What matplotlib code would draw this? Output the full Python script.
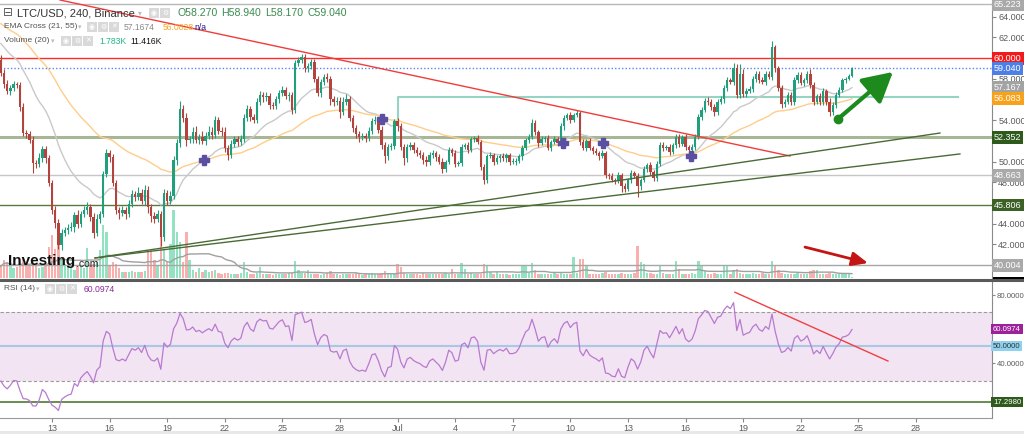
import numpy as np
import pandas as pd
import matplotlib
matplotlib.use("Agg")
import matplotlib.pyplot as plt
import matplotlib.dates as mdates
from matplotlib.transforms import blended_transform_factory
from matplotlib.patches import Rectangle
from matplotlib.lines import Line2D

plt.rcParams['font.family'] = ['Liberation Sans', 'DejaVu Sans']

# ---- 4h candles, LTC/USD (Binance) ----
start_time = '2022-06-10 08:00'
first_open = 59.8

closes_a = [58.6, 57.5, 56.8, 57.1, 57.5, 57.4, 55.3, 52.8, 52.7, 52.1,
            49.9, 49.8, 50.3, 51.2, 50.3, 47.9, 45.3, 44.1, 41.9, 43.1,
            43.4, 43.6, 43.7, 44.8, 44.0, 44.9, 45.3, 45.6, 44.6, 43.1,
            44.5, 44.9, 48.8, 50.8, 50.4, 47.9, 45.3, 45.0, 45.3, 44.9,
            45.9, 46.9, 46.6, 47.0, 46.2, 47.3, 45.6, 44.7, 44.5, 44.9,
            42.7, 47.0, 46.2, 46.7, 50.2, 51.8, 55.1, 54.2, 52.1, 52.2,
            52.9, 52.1, 52.4, 52.0, 52.5, 52.9, 52.6, 54.0]
closes_b = [53.0, 52.9, 51.3, 50.6, 51.7, 52.2, 51.9, 52.2, 54.2, 55.1,
            54.3, 54.0, 55.8, 56.4, 56.2, 56.3, 55.5, 55.4, 56.0, 56.6,
            56.9, 56.3, 56.4, 55.0, 59.5, 59.8, 60.1, 59.0, 59.2, 59.6,
            58.0, 56.6, 57.7, 58.2, 58.0, 56.0, 55.8, 55.9, 54.8, 55.8,
            56.0, 54.2, 53.2, 52.7, 52.4, 52.5, 52.3, 53.0, 53.9, 54.0,
            53.1, 51.6, 50.5, 51.4, 51.5, 53.9, 53.4, 51.4, 50.3, 51.4,
            51.6, 51.1, 50.8, 50.6, 50.2, 50.0, 50.6, 50.8]
closes_c = [50.4, 50.0, 49.3, 50.0, 51.1, 50.8, 49.8, 49.9, 51.4, 51.6,
            51.1, 52.2, 52.3, 51.9, 49.5, 48.2, 50.5, 50.6, 50.0, 50.3,
            50.5, 50.3, 50.6, 50.0, 50.0, 50.1, 50.5, 51.3, 52.1, 52.4,
            53.7, 52.9, 51.8, 52.2, 52.3, 51.3, 51.9, 52.2, 51.8, 53.4,
            54.2, 54.5, 54.0, 54.5, 54.7, 51.9, 51.3, 52.0, 51.3, 51.0,
            50.8, 50.5, 50.8, 48.7, 48.6, 48.2, 48.1, 48.7, 47.6, 47.4,
            48.2, 48.9, 48.6, 47.6, 48.2, 49.3, 49.7]
closes_d = [49.0, 48.4, 49.8, 51.6, 51.3, 51.4, 50.9, 51.6, 52.4, 51.7,
            52.4, 51.4, 51.1, 51.4, 52.4, 54.3, 55.0, 55.9, 55.8, 55.3,
            54.8, 55.8, 56.0, 57.1, 57.9, 57.7, 59.0, 56.4, 58.5, 56.5,
            56.8, 57.0, 58.0, 58.5, 57.9, 57.7, 58.5, 58.2, 61.1, 59.0,
            57.1, 55.6, 55.8, 56.4, 55.8, 57.9, 58.4, 57.6, 57.9, 58.5,
            57.4, 55.8, 56.3, 55.8, 56.8, 55.8, 54.8, 55.5, 56.4, 56.9,
            57.9, 58.0, 58.27, 59.04]

upper_wick = [0.5, 0.3, 0.4, 0.3, 0.3, 0.2, 0.3, 0.4, 0.3, 0.3,
              0.4, 0.3, 0.5, 0.3, 0.3, 0.3, 0.3, 0.4, 0.4, 0.4,
              0.3, 0.4, 0.5, 0.3, 0.5, 0.3, 0.4, 0.5, 0.3, 0.4,
              0.4, 0.3, 0.3, 0.4, 0.3, 0.3, 0.3, 0.3, 0.4, 0.3,
              0.4, 0.4, 0.3, 0.5, 0.4, 0.4, 0.3, 0.3, 0.4, 0.4,
              0.3, 0.4, 0.3, 0.5, 0.3, 0.4, 0.8, 0.4, 0.5, 0.3,
              0.4, 0.5, 0.3, 0.6, 0.4, 0.5, 0.4, 0.4,
              0.3, 0.3, 0.4, 0.3, 0.4, 0.3, 0.3, 0.4, 0.4, 0.4,
              0.3, 0.3, 0.3, 0.4, 0.3, 0.4, 0.3, 0.3, 0.3, 0.3,
              0.4, 0.3, 0.3, 0.3, 0.3, 0.3, 0.3, 0.3, 0.3, 0.3,
              0.3, 0.3, 0.3, 0.3, 0.4, 0.3, 0.3, 0.3, 0.3, 0.4,
              0.5, 0.3, 0.3, 0.3, 0.3, 0.3, 0.3, 0.3, 0.3, 0.4,
              0.3, 0.3, 0.3, 0.3, 0.3, 0.2, 0.3, 0.3, 0.3, 0.3,
              0.3, 0.3, 0.3, 0.3, 0.3, 0.3, 0.3, 0.3,
              0.2, 0.3, 0.3, 0.2, 0.3, 0.2, 0.3, 0.2, 0.3, 0.2,
              0.3, 0.2, 0.2, 0.3, 0.2, 0.3, 0.2, 0.3, 0.2, 0.3,
              0.2, 0.3, 0.2, 0.2, 0.3, 0.2, 0.2, 0.3, 0.2, 0.3,
              0.4, 0.3, 0.2, 0.3, 0.2, 0.3, 0.2, 0.3, 0.2, 0.3,
              0.3, 0.2, 0.3, 0.2, 0.3, 0.2, 0.3, 0.2, 0.3, 0.2,
              0.3, 0.2, 0.3, 0.2, 0.2, 0.3, 0.2, 0.3, 0.2, 0.3,
              0.2, 0.3, 0.2, 0.3, 0.2, 0.3, 0.2,
              0.3, 0.2, 0.3, 0.3, 0.3, 0.2, 0.3, 0.2, 0.3, 0.3,
              0.2, 0.3, 0.2, 0.3, 0.3, 0.3, 0.3, 0.2, 0.3, 0.2,
              0.3, 0.2, 0.3, 0.3, 0.3, 0.2, 0.5, 0.4, 0.9, 0.4,
              0.3, 0.3, 0.3, 0.3, 0.3, 0.3, 0.3, 0.3, 0.6, 0.2,
              0.2, 0.3, 0.2, 0.3, 0.3, 0.3, 0.3, 0.3, 0.2, 0.3,
              0.4, 0.3, 0.2, 0.3, 0.3, 0.2, 0.3, 0.3, 0.3, 0.3,
              0.2, 0.2, 0.2, 0.1]
lower_wick = [0.3, 0.4, 0.3, 0.4, 0.3, 0.3, 0.4, 0.3, 0.4, 0.3,
              1.0, 0.4, 0.3, 0.3, 0.4, 0.3, 0.4, 0.5, 0.3, 0.4,
              0.3, 0.4, 0.3, 0.5, 0.4, 0.3, 0.3, 0.4, 0.3, 0.5,
              0.3, 0.4, 0.3, 0.3, 0.4, 0.3, 0.4, 0.5, 0.3, 0.4,
              0.3, 0.3, 0.4, 0.3, 0.3, 0.4, 0.6, 0.5, 0.4, 0.3,
              0.9, 0.4, 0.4, 0.3, 0.3, 0.5, 0.4, 0.4, 0.6, 0.3,
              0.4, 0.3, 0.4, 0.3, 0.4, 0.3, 0.4, 0.3,
              0.3, 0.4, 0.4, 0.4, 0.3, 0.3, 0.4, 0.3, 0.3, 0.3,
              0.4, 0.3, 0.3, 0.3, 0.4, 0.3, 0.4, 0.3, 0.3, 0.3,
              0.3, 0.3, 0.4, 0.4, 0.3, 0.3, 0.3, 0.3, 0.3, 0.3,
              0.3, 0.3, 0.4, 0.3, 0.3, 0.5, 0.4, 0.3, 0.6, 0.3,
              0.3, 0.3, 0.3, 0.4, 0.5, 0.3, 0.4, 0.3, 0.3, 0.3,
              0.3, 0.4, 0.6, 0.3, 0.3, 0.3, 0.4, 0.3, 0.6, 0.3,
              0.3, 0.3, 0.3, 0.3, 0.4, 0.4, 0.3, 0.3,
              0.3, 0.2, 0.4, 0.3, 0.2, 0.3, 0.3, 0.2, 0.3, 0.2,
              0.3, 0.2, 0.3, 0.2, 0.3, 0.4, 0.3, 0.2, 0.3, 0.2,
              0.3, 0.2, 0.3, 0.3, 0.2, 0.3, 0.2, 0.3, 0.2, 0.3,
              0.2, 0.3, 0.4, 0.2, 0.3, 0.2, 0.3, 0.2, 0.3, 0.2,
              0.3, 0.2, 0.3, 0.2, 0.2, 0.3, 0.2, 0.3, 0.2, 0.3,
              0.2, 0.3, 0.2, 0.3, 0.3, 0.2, 0.3, 0.2, 0.5, 0.3,
              0.2, 0.3, 0.2, 1.0, 0.3, 0.2, 0.3,
              0.3, 0.3, 0.3, 0.2, 0.3, 0.2, 0.3, 0.2, 0.3, 0.3,
              0.2, 0.3, 0.3, 0.2, 0.3, 0.2, 0.3, 0.2, 0.3, 0.3,
              0.4, 0.3, 0.2, 0.3, 0.3, 0.2, 0.3, 0.3, 0.3, 0.3,
              0.3, 0.2, 0.3, 0.3, 0.3, 0.2, 0.3, 0.2, 0.3, 0.3,
              0.3, 0.4, 0.3, 0.2, 0.3, 0.3, 0.3, 0.2, 0.3, 0.3,
              0.3, 0.3, 0.2, 0.3, 0.3, 0.3, 0.4, 0.3, 0.3, 0.2,
              0.2, 0.3, 0.1, 0.1]

# volume in thousands (K)
volumes = [30, 45, 40, 30, 25, 28, 40, 50, 30, 35,
           45, 30, 25, 28, 30, 80, 110, 75, 120, 45,
           35, 30, 25, 20, 30, 28, 25, 77, 30, 35,
           40, 71, 135, 118, 33, 40, 35, 25, 15, 15,
           15, 18, 15, 15, 15, 18, 71, 71, 45, 33,
           122, 75, 40, 88, 174, 118, 92, 40, 118, 45,
           20, 15, 25, 15, 20, 15, 18, 20,
           12, 10, 14, 12, 9, 10, 11, 13, 41, 15,
           10, 9, 12, 28, 11, 9, 10, 8, 9, 11,
           10, 9, 12, 14, 43, 20, 14, 12, 20, 11,
           9, 10, 8, 10, 12, 18, 11, 9, 8, 10,
           9, 11, 10, 12, 9, 8, 10, 11, 13, 10,
           9, 12, 18, 11, 10, 14, 35, 28, 13, 10,
           9, 11, 10, 8, 12, 10, 9, 11,
           10, 9, 11, 12, 10, 24, 11, 9, 39, 24,
           10, 12, 11, 9, 10, 36, 30, 15, 10, 15,
           9, 10, 11, 8, 9, 10, 11, 30, 30, 12,
           39, 20, 10, 9, 11, 10, 9, 12, 10, 13,
           11, 10, 9, 54, 12, 48, 48, 33, 10, 11,
           9, 10, 12, 15, 10, 11, 9, 10, 13, 10,
           11, 9, 12, 82, 40, 36, 14,
           12, 10, 11, 33, 12, 10, 11, 9, 43, 24,
           10, 11, 9, 12, 10, 43, 33, 18, 11, 10,
           12, 9, 11, 30, 30, 10, 20, 24, 12, 11,
           10, 9, 12, 11, 10, 13, 9, 11, 43, 33,
           20, 12, 11, 10, 9, 10, 12, 11, 9, 10,
           18, 20, 20, 10, 9, 11, 12, 10, 9, 11,
           10, 12, 9, 1.8]

# indicator seeds (values already running at the left edge)
ema21_seed = 61.7
ema55_seed = 63.5
rsi_gain_seed = 0.25
rsi_loss_seed = 0.5

# horizontal levels and their right-axis tags
levels = [65.223, 60.0, 59.04, 52.352, 48.663, 45.806, 40.004]
price_ticks = [42, 44, 46, 48, 50, 52, 54, 56, 58, 60, 62, 64]
price_tick_labels = ['42.000', '44.000', '', '48.000', '50.000', '', '54.000', '', '58.000', '', '62.000', '64.000']
price_tags = ['65.223', '60.000', '59.040', '57.167', '56.083', '52.352', '48.663', '45.806', '40.004']
price_tag_vals = [65.223, 60.0, 59.04, 57.167, 56.083, 52.352, 48.663, 45.806, 40.004]
price_tag_colors = ['#a9a9a9', '#f21b1b', '#4d7fe6', '#a3a3a3', '#f7a21b', '#2e5a1c', '#a9a9a9', '#3b6124', '#a9a9a9']

# drawn trend lines: (days after 13 Jun, price)
red_trend = [(0.42, 65.61), (38.44, 50.54)]
green_trend_1 = [(2.24, 40.69), (46.25, 52.76)]
green_trend_2 = [(2.24, 40.69), (47.29, 50.74)]
teal_level = [(18.02, 54.0), (18.02, 56.2), (47.19, 56.2)]
cross_days = [7.92, 17.19, 26.6, 28.7, 33.3]
cross_prices = [50.14, 54.1, 51.8, 51.8, 50.55]
green_arrow = [(40.94, 54.12), (43.8, 58.66)]
red_arrow = [(39.22, 41.74), (42.5, 40.2)]
rsi_trend = [(35.57, 81.6), (43.54, 41.4)]

rsi_ticks = [20, 40, 60, 80]
rsi_tick_labels = ['', '40.0000', '', '80.0000']
x_tick_dates = ['2022-06-13', '2022-06-16', '2022-06-19', '2022-06-22', '2022-06-25', '2022-06-28',
                '2022-07-01', '2022-07-04', '2022-07-07', '2022-07-10', '2022-07-13', '2022-07-16',
                '2022-07-19', '2022-07-22', '2022-07-25', '2022-07-28']
x_tick_labels = ['13', '16', '19', '22', '25', '28', 'Jul', '4', '7', '10', '13', '16', '19', '22', '25', '28']

# ---- derived series ----
closes = np.array(closes_a + closes_b + closes_c + closes_d)
opens = np.concatenate([[first_open], closes[:-1]])
highs = np.maximum(opens, closes) + np.array(upper_wick)
lows = np.minimum(opens, closes) - np.array(lower_wick)
vols = np.array(volumes, dtype=float)
dates = pd.date_range(start_time, periods=len(closes), freq='4h')
xs = mdates.date2num(dates)
base = mdates.date2num(pd.Timestamp('2022-06-13'))


def ema(vals, n, seed):
    k = 2.0 / (n + 1)
    e = seed
    out = []
    for v in vals:
        e = e + k * (v - e)
        out.append(e)
    return np.array(out)


def wilder_rsi(vals, prev, n, ag, al):
    out = []
    for v in vals:
        ch = v - prev
        ag = (ag * (n - 1) + max(ch, 0)) / n
        al = (al * (n - 1) + max(-ch, 0)) / n
        out.append(100 - 100 / (1 + ag / al))
        prev = v
    return np.array(out)


ema21 = ema(closes, 21, ema21_seed)
ema55 = ema(closes, 55, ema55_seed)
rsi = wilder_rsi(closes, first_open, 14, rsi_gain_seed, rsi_loss_seed)
vol_ma = pd.Series(vols).rolling(20, min_periods=1).mean().values

W, H = 1024, 434
fig = plt.figure(figsize=(W / 100, H / 100), dpi=100)


def fx(x):
    return x / W


def fy(y):
    return 1 - y / H


ax = fig.add_axes([0, fy(278), fx(992), 278 / H])
axv = ax.twinx()
ax.set_zorder(axv.get_zorder() + 1)
ax.patch.set_visible(False)
axr = fig.add_axes([0, fy(418), fx(992), (418 - 281) / H])

x_left = base - 2.708
x_right = base + 48.96
for a in (ax, axv, axr):
    a.set_xlim(x_left, x_right)

# ---- volume ----
up = closes >= opens
vcol = np.where(up, '#93e3c3', '#f8b0ae')
axv.bar(xs, vols, width=0.12, color=vcol, linewidth=0)
axv.plot(xs, vol_ma, color='#a0a0a0', lw=1)
axv.set_ylim(0, 713)
axv.axis('off')

# ---- price ----
for lv, col, lw, ls in zip(levels,
                           ['#b8b8b8', '#ff2a2a', '#5a86f0', '#a7b795', '#c6c6c6', '#587a3e', '#a6a6a6'],
                           [1, 1, 1, 2.2, 1, 1, 1],
                           ['-', '-', (0, (1, 1.5)), '-', '-', '-', '-']):
    ax.axhline(lv, color=col, lw=lw, ls=ls, zorder=1)

ax.plot([base + p[0] for p in teal_level], [p[1] for p in teal_level], color='#95d3c3', lw=1.5, zorder=1)
ax.plot(xs, ema21, color='#c9c9c9', lw=1, zorder=2)
ax.plot(xs, ema55, color='#ffcd8a', lw=1, zorder=2)

ccol = np.where(up, '#1f9f7c', '#b3433d')
ax.vlines(xs, lows, highs, colors=ccol, lw=0.8, zorder=3)
body = np.maximum(np.abs(closes - opens), 0.06)
ax.bar(xs, body, bottom=np.minimum(opens, closes), width=0.12, color=ccol, linewidth=0, zorder=4)

for line, col in [(red_trend, '#f03c3c'), (green_trend_1, '#4b6b36'), (green_trend_2, '#4b6b36')]:
    ax.plot([base + p[0] for p in line], [p[1] for p in line], color=col, lw=1, zorder=5)

ax.plot(base + np.array(cross_days), cross_prices, ls='none', marker='P', ms=7,
        color='#5a4fa0', mec='#5a4fa0', zorder=6)

ax.annotate('', xy=(base + green_arrow[1][0], green_arrow[1][1]),
            xytext=(base + green_arrow[0][0], green_arrow[0][1]),
            arrowprops=dict(arrowstyle='-|>,head_width=0.55,head_length=1.0', color='#1d8a1d',
                            lw=3, mutation_scale=18, shrinkA=0, shrinkB=0), zorder=7)
ax.plot(base + green_arrow[0][0], green_arrow[0][1], 'o', ms=6, color='#1d8a1d', zorder=7)
ax.annotate('', xy=(base + red_arrow[1][0], red_arrow[1][1]),
            xytext=(base + red_arrow[0][0], red_arrow[0][1]),
            arrowprops=dict(arrowstyle='-|>,head_width=0.35,head_length=0.8', color='#c41414',
                            lw=2, mutation_scale=12, shrinkA=0, shrinkB=0), zorder=7)

ax.set_ylim(38.754, 65.613)
ax.set_xticks([])
ax.yaxis.tick_right()
ax.set_yticks(price_ticks)
ax.set_yticklabels(price_tick_labels)
ax.tick_params(axis='y', direction='out', length=3, width=0.8, color='#888888',
               labelcolor='#5a5a5a', labelsize=6.5, pad=1.5)
for s in ('top', 'left', 'bottom'):
    ax.spines[s].set_visible(False)
ax.spines['right'].set_color('#8a8a8a')

tr = blended_transform_factory(ax.transAxes, ax.transData)
for txt, val, col in zip(price_tags, price_tag_vals, price_tag_colors):
    ax.text(1.002, val, txt, transform=tr, ha='left', va='center', fontsize=6.5, color='white',
            bbox=dict(boxstyle='square,pad=0.22', fc=col, ec='none'), clip_on=False, zorder=10)

# ---- RSI ----
axr.axhspan(30, 70, color='#f2e4f2', lw=0, zorder=0)
axr.axhline(70, color='#9a9a9a', lw=0.8, ls=(0, (3, 2)), zorder=1)
axr.axhline(30, color='#9a9a9a', lw=0.8, ls=(0, (3, 2)), zorder=1)
axr.axhline(50, color='#a9c8e6', lw=1.5, zorder=1)
axr.axhline(17.298, color='#4e7a30', lw=1.2, zorder=1)
axr.plot(xs, rsi, color='#b77ad0', lw=0.9, zorder=3)
axr.plot([base + p[0] for p in rsi_trend], [p[1] for p in rsi_trend], color='#f04040', lw=1, zorder=4)
axr.set_ylim(8.07, 88.19)
axr.yaxis.tick_right()
axr.set_yticks(rsi_ticks)
axr.set_yticklabels(rsi_tick_labels)
axr.tick_params(axis='y', direction='out', length=2.5, width=0.8, color='#888888',
                labelcolor='#5a5a5a', labelsize=5.6, pad=1)
axr.set_xticks(mdates.date2num(pd.to_datetime(x_tick_dates)))
axr.set_xticklabels(x_tick_labels)
axr.tick_params(axis='x', direction='out', length=3, width=0.8, color='#888888',
                labelcolor='#5a5a5a', labelsize=6.5, pad=1.5)
for s in ('top', 'left'):
    axr.spines[s].set_visible(False)
axr.spines['right'].set_color('#8a8a8a')
axr.spines['bottom'].set_color('#9a9a9a')

trr = blended_transform_factory(axr.transAxes, axr.transData)
for txt, val, fc, tc in [('60.0974', 60.0974, '#9b229b', 'white'),
                         ('50.0000', 50.0, '#8ed2ef', '#333333'),
                         ('17.2980', 17.298, '#2e5a1c', 'white')]:
    axr.text(1.001, val, txt, transform=trr, ha='left', va='center', fontsize=5.6, color=tc,
             bbox=dict(boxstyle='square,pad=0.2', fc=fc, ec='none'), clip_on=False, zorder=10)

# ---- frame pieces ----
fig.add_artist(Line2D([0, 1], [fy(279.5), fy(279.5)], color='#5a5a5a', lw=2.2))
fig.add_artist(Rectangle((fx(993), fy(281)), fx(31), 4 / H, color='black', lw=0))
fig.add_artist(Rectangle((0, 0), 1, 3 / H, color='#e8e8e8', lw=0))


# ---- legend headers ----
def icons(x0, y, n):
    for k, g in enumerate(['\u25c9', '\u2699', '\u2715'][:n]):
        fig.text(fx(x0 + 11 * k), fy(y), g, fontsize=5, color='white', ha='center', va='center',
                 family='DejaVu Sans',
                 bbox=dict(boxstyle='square,pad=0.25', fc='#d9d9d9', ec='none'))


fig.text(fx(3), fy(13), '\u229f', fontsize=8.5, color='#555555', va='center', family='DejaVu Sans')
fig.text(fx(17), fy(13), 'LTC/USD, 240, Binance', fontsize=8, color='#333333', va='center')
fig.text(fx(138), fy(13), '\u25be', fontsize=5.5, color='#bbbbbb', va='center', family='DejaVu Sans')
icons(154, 13, 2)
ohlc = [('O58.270', 177), ('H58.940', 221), ('L58.170', 265), ('C59.040', 308)]
for t, x in ohlc:
    fig.text(fx(x), fy(13), t, fontsize=7.6, color='#3a8a4e', va='center')

fig.text(fx(4), fy(27), 'EMA Cross (21, 55)', fontsize=6, color='#555555', va='center')
fig.text(fx(78), fy(27), '\u25be', fontsize=5, color='#bbbbbb', va='center', family='DejaVu Sans')
icons(92, 27, 3)
fig.text(fx(124), fy(27), '57.1674', fontsize=6.2, color='#8a8a8a', va='center')
fig.text(fx(163), fy(27), '56.0828', fontsize=6.2, color='#f5a623', va='center')
fig.text(fx(194), fy(27), 'n/a', fontsize=6.2, color='#1c1c8c', va='center')

fig.text(fx(4), fy(41), 'Volume (20)', fontsize=6, color='#555555', va='center')
fig.text(fx(51), fy(41), '\u25be', fontsize=5, color='#bbbbbb', va='center', family='DejaVu Sans')
icons(66, 41, 3)
fig.text(fx(99), fy(41), '1.783K', fontsize=6.2, color='#22b884', va='center')
fig.text(fx(130), fy(41), '11.416K', fontsize=6.2, color='#111111', va='center')

fig.text(fx(4), fy(289), 'RSI (14)', fontsize=6, color='#555555', va='center')
fig.text(fx(36), fy(289), '\u25be', fontsize=5, color='#bbbbbb', va='center', family='DejaVu Sans')
icons(50, 289, 3)
fig.text(fx(84), fy(289), '60.0974', fontsize=6.2, color='#8a2a9a', va='center')

fig.text(fx(8), fy(261), 'Investing', fontsize=11, weight='bold', color='#111111', va='center')
fig.text(fx(76), fy(264), '.com', fontsize=7.5, color='#222222', va='center')

fig.savefig('out.png', dpi=100)
